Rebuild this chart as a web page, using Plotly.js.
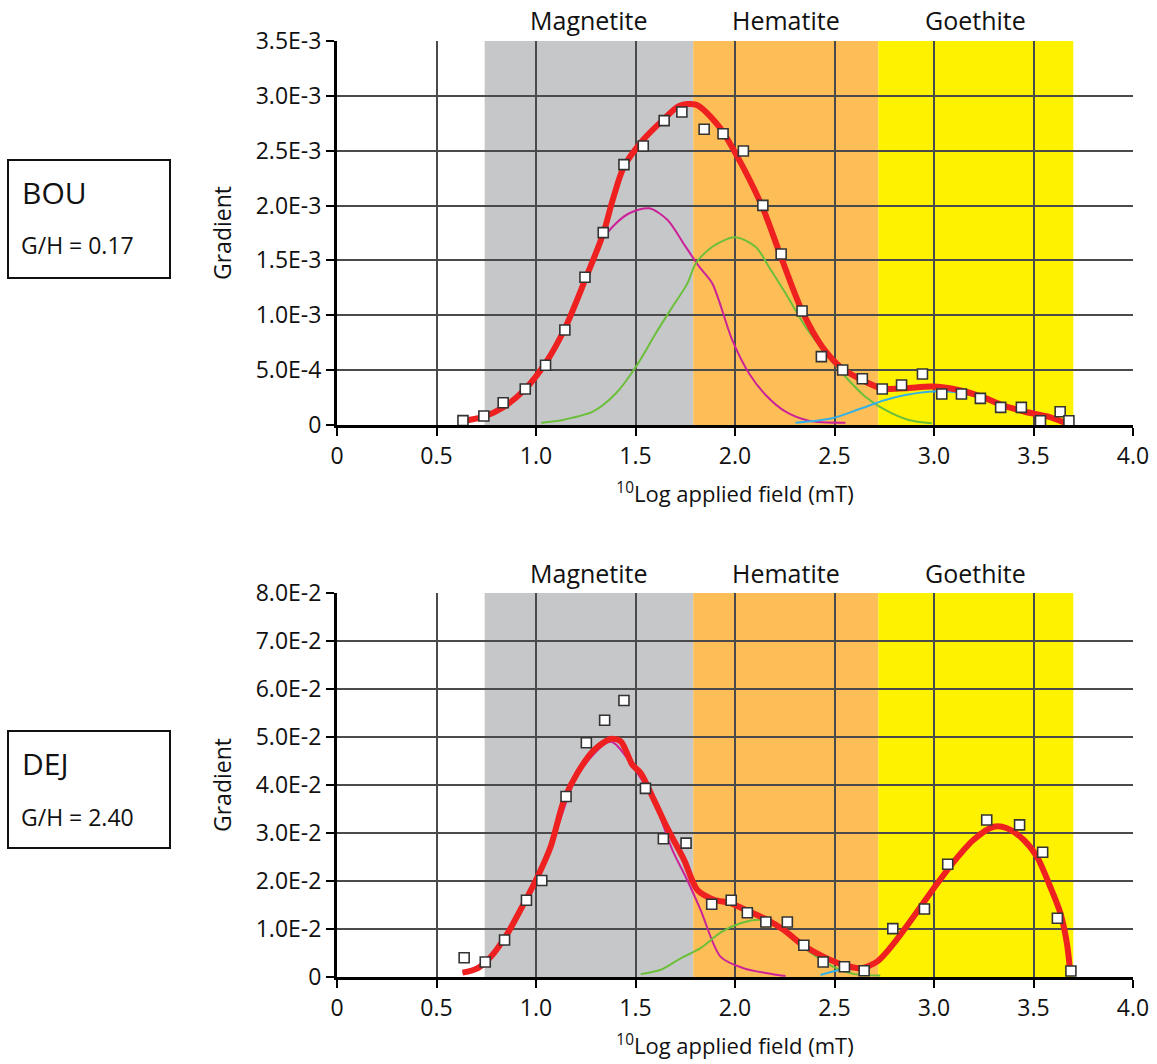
<!DOCTYPE html>
<html>
<head>
<meta charset="utf-8">
<script src="https://cdn.plot.ly/plotly-3.0.1.min.js"></script>
<style>html,body{margin:0;padding:0;background:#fff}#chart{width:1157px;height:1064px}</style>
</head>
<body>
<div id="chart"></div>
<script>
// ---------- shared ----------
const xTickVals = [0, 0.5, 1, 1.5, 2, 2.5, 3, 3.5, 4];
const xTickText = ["0", "0.5", "1.0", "1.5", "2.0", "2.5", "3.0", "3.5", "4.0"];
const bandNames = ["Magnetite", "Hematite", "Goethite"];
const bandStart = [0.742, 1.79, 2.72];
const bandEnd = [1.79, 2.72, 3.70];
const bandColors = ["#c6c7c9", "#fdbe57", "#fff200"];

// ---------- BOU (top) ----------
const bouTickVals = [0, 0.0005, 0.001, 0.0015, 0.002, 0.0025, 0.003, 0.0035];
const bouTickText = ["0", "5.0E-4", "1.0E-3", "1.5E-3", "2.0E-3", "2.5E-3", "3.0E-3", "3.5E-3"];
const bouDataX = [0.633, 0.738, 0.835, 0.946, 1.048, 1.145, 1.246, 1.338, 1.442, 1.539, 1.644, 1.733, 1.845, 1.94,
  2.042, 2.14, 2.232, 2.337, 2.434, 2.541, 2.64, 2.74, 2.837, 2.942, 3.039, 3.138, 3.233, 3.335, 3.439, 3.535, 3.634, 3.678];
const bouDataY = [0.04e-3, 0.082e-3, 0.203e-3, 0.328e-3, 0.544e-3, 0.866e-3, 1.346e-3, 1.753e-3, 2.373e-3, 2.543e-3, 2.774e-3, 2.853e-3, 2.695e-3, 2.655e-3,
  2.497e-3, 2.002e-3, 1.559e-3, 1.039e-3, 0.623e-3, 0.501e-3, 0.422e-3, 0.328e-3, 0.365e-3, 0.465e-3, 0.283e-3, 0.283e-3, 0.243e-3, 0.161e-3, 0.161e-3, 0.039e-3, 0.121e-3, 0.039e-3];
const bouFitX = [0.633, 0.738, 0.836, 0.946, 1.048, 1.145, 1.246, 1.338, 1.385, 1.442, 1.539, 1.644, 1.719, 1.803, 1.92, 2.003, 2.137, 2.237, 2.337, 2.438, 2.538, 2.638, 2.738, 2.856, 2.989, 3.123, 3.24, 3.34, 3.457, 3.574, 3.657];
const bouFitY = [0.036e-3, 0.076e-3, 0.161e-3, 0.328e-3, 0.565e-3, 0.88e-3, 1.32e-3, 1.745e-3, 2.05e-3, 2.355e-3, 2.6e-3, 2.79e-3, 2.908e-3, 2.92e-3, 2.72e-3, 2.476e-3, 1.99e-3, 1.504e-3, 1.04e-3, 0.714e-3, 0.517e-3, 0.41e-3, 0.334e-3, 0.334e-3, 0.35e-3, 0.319e-3, 0.258e-3, 0.182e-3, 0.121e-3, 0.076e-3, 0.021e-3];
const bouMagX = [0.633, 0.738, 0.836, 0.946, 1.048, 1.145, 1.246, 1.302, 1.385, 1.469, 1.569, 1.66, 1.75, 1.82, 1.886, 1.986, 2.07, 2.154, 2.254, 2.371, 2.555];
const bouMagY = [0.03e-3, 0.07e-3, 0.15e-3, 0.31e-3, 0.54e-3, 0.85e-3, 1.3e-3, 1.6e-3, 1.807e-3, 1.93e-3, 1.975e-3, 1.87e-3, 1.63e-3, 1.443e-3, 1.29e-3, 0.775e-3, 0.471e-3, 0.273e-3, 0.121e-3, 0.039e-3, 0.02e-3];
const bouGreenX = [1.026, 1.134, 1.285, 1.402, 1.502, 1.602, 1.686, 1.761, 1.803, 1.886, 2.0, 2.103, 2.17, 2.254, 2.354, 2.455, 2.555, 2.655, 2.755, 2.872, 2.989];
const bouGreenY = [0.02e-3, 0.046e-3, 0.121e-3, 0.289e-3, 0.531e-3, 0.836e-3, 1.078e-3, 1.291e-3, 1.474e-3, 1.625e-3, 1.711e-3, 1.625e-3, 1.443e-3, 1.2e-3, 0.896e-3, 0.653e-3, 0.44e-3, 0.258e-3, 0.137e-3, 0.046e-3, 0.015e-3];
const bouBlueX = [2.304, 2.488, 2.622, 2.755, 2.856, 2.972, 3.1, 3.24, 3.34, 3.457, 3.574, 3.657];
const bouBlueY = [0.02e-3, 0.061e-3, 0.143e-3, 0.228e-3, 0.273e-3, 0.304e-3, 0.3e-3, 0.245e-3, 0.172e-3, 0.112e-3, 0.066e-3, 0.018e-3];

// ---------- DEJ (bottom) ----------
const dejTickVals = [0, 0.01, 0.02, 0.03, 0.04, 0.05, 0.06, 0.07, 0.08];
const dejTickText = ["0", "1.0E-2", "2.0E-2", "3.0E-2", "4.0E-2", "5.0E-2", "6.0E-2", "7.0E-2", "8.0E-2"];
const dejDataX = [0.639, 0.745, 0.842, 0.952, 1.029, 1.151, 1.253, 1.345, 1.442, 1.55, 1.64, 1.754, 1.883, 1.981,
  2.062, 2.155, 2.263, 2.346, 2.443, 2.55, 2.649, 2.793, 2.952, 3.069, 3.265, 3.43, 3.546, 3.62, 3.688];
const dejDataY = [0.402e-2, 0.313e-2, 0.771e-2, 1.598e-2, 2.01e-2, 3.76e-2, 4.88e-2, 5.35e-2, 5.76e-2, 3.93e-2, 2.88e-2, 2.79e-2, 1.515e-2, 1.598e-2,
  1.34e-2, 1.147e-2, 1.147e-2, 0.66e-2, 0.313e-2, 0.215e-2, 0.131e-2, 1.007e-2, 1.418e-2, 2.35e-2, 3.27e-2, 3.17e-2, 2.6e-2, 1.223e-2, 0.125e-2];
const dejFitX = [0.631, 0.706, 0.773, 0.857, 0.94, 1.008, 1.074, 1.141, 1.208, 1.292, 1.375, 1.426, 1.484, 1.526, 1.593, 1.66, 1.744, 1.811, 1.894, 1.978, 2.062, 2.162, 2.246, 2.329, 2.446, 2.547, 2.63, 2.714, 2.798, 2.898, 2.999, 3.099, 3.199, 3.3, 3.367, 3.45, 3.517, 3.584, 3.635, 3.668, 3.685];
const dejFitY = [0.09e-2, 0.18e-2, 0.42e-2, 0.91e-2, 1.54e-2, 2.09e-2, 2.72e-2, 3.69e-2, 4.25e-2, 4.73e-2, 4.96e-2, 4.91e-2, 4.42e-2, 4.25e-2, 3.69e-2, 3.1e-2, 2.44e-2, 1.81e-2, 1.61e-2, 1.54e-2, 1.38e-2, 1.19e-2, 0.98e-2, 0.70e-2, 0.42e-2, 0.25e-2, 0.18e-2, 0.32e-2, 0.70e-2, 1.26e-2, 1.85e-2, 2.40e-2, 2.86e-2, 3.13e-2, 3.10e-2, 2.86e-2, 2.51e-2, 1.88e-2, 1.33e-2, 0.70e-2, 0.08e-2];
const dejMagX = [0.631, 0.773, 0.94, 1.074, 1.208, 1.375, 1.484, 1.593, 1.685, 1.76, 1.827, 1.928, 2.045, 2.162, 2.254];
const dejMagY = [0.08e-2, 0.4e-2, 1.5e-2, 2.7e-2, 4.2e-2, 4.9e-2, 4.4e-2, 3.65e-2, 2.65e-2, 2.02e-2, 1.4e-2, 0.42e-2, 0.18e-2, 0.08e-2, 0.02e-2];
const dejGreenX = [1.526, 1.627, 1.727, 1.827, 1.928, 2.028, 2.128, 2.2, 2.3, 2.4, 2.5, 2.6, 2.73];
const dejGreenY = [0.06e-2, 0.15e-2, 0.39e-2, 0.6e-2, 0.93e-2, 1.12e-2, 1.19e-2, 1.1e-2, 0.75e-2, 0.45e-2, 0.2e-2, 0.06e-2, 0.03e-2];
const dejBlueX = [2.43, 2.53, 2.63, 2.714, 2.798, 2.898, 2.999, 3.099, 3.199, 3.3, 3.367, 3.45, 3.517, 3.584, 3.635, 3.668, 3.685];
const dejBlueY = [0.04e-2, 0.15e-2, 0.18e-2, 0.3e-2, 0.68e-2, 1.24e-2, 1.83e-2, 2.38e-2, 2.84e-2, 3.11e-2, 3.08e-2, 2.84e-2, 2.49e-2, 1.86e-2, 1.31e-2, 0.68e-2, 0.07e-2];

const FONT = "Open Sans, Noto Sans, sans-serif";
const RED = "#ee2020", MAG = "#cc2299", GRN = "#6cbf3a", BLU = "#33b0e6";

function line(x, y, color, width, xa, ya) {
  return {x: x, y: y, xaxis: xa, yaxis: ya, type: "scatter", mode: "lines",
    line: {color: color, width: width, shape: "spline", smoothing: 0.8}, hoverinfo: "skip", showlegend: false};
}
function pts(x, y, xa, ya) {
  return {x: x, y: y, xaxis: xa, yaxis: ya, type: "scatter", mode: "markers",
    marker: {symbol: "square", size: 10, color: "#ffffff", line: {color: "#333333", width: 1.6}},
    hoverinfo: "skip", showlegend: false};
}

const traces = [
  line(bouMagX, bouMagY, MAG, 2, "x", "y"),
  line(bouGreenX, bouGreenY, GRN, 2, "x", "y"),
  line(bouBlueX, bouBlueY, BLU, 2, "x", "y"),
  line(bouFitX, bouFitY, RED, 6, "x", "y"),
  pts(bouDataX, bouDataY, "x", "y"),
  line(dejMagX, dejMagY, MAG, 2, "x2", "y2"),
  line(dejGreenX, dejGreenY, GRN, 2, "x2", "y2"),
  line(dejBlueX, dejBlueY, BLU, 2, "x2", "y2"),
  line(dejFitX, dejFitY, RED, 6, "x2", "y2"),
  pts(dejDataX, dejDataY, "x2", "y2")
];

const xDom = [337 / 1157, 1133 / 1157];
const topDom = [(1064 - 425) / 1064, (1064 - 41) / 1064];
const botDom = [(1064 - 977) / 1064, (1064 - 593) / 1064];

function xAxis(anchor) {
  return {domain: xDom, anchor: anchor, range: [0, 4], tickvals: xTickVals, ticktext: xTickText,
    showgrid: true, gridcolor: "#4a4a4a", gridwidth: 2, zeroline: false,
    showline: true, linecolor: "#000000", linewidth: 3, ticks: "outside", ticklen: 8, tickwidth: 2, tickcolor: "#000",
    tickfont: {family: FONT, size: 23, color: "#111"},
    title: {text: "<sup>10</sup>Log applied field (mT)", font: {family: FONT, size: 22, color: "#111"}, standoff: 18}};
}
function yAxis(anchor, dom, range, tv, tt) {
  return {domain: dom, anchor: anchor, range: range, tickvals: tv, ticktext: tt,
    showgrid: true, gridcolor: "#4a4a4a", gridwidth: 2, zeroline: false,
    showline: true, linecolor: "#000000", linewidth: 3, ticks: "outside", ticklen: 8, tickwidth: 2, tickcolor: "#000",
    tickfont: {family: FONT, size: 23, color: "#111"},
    title: {text: "Gradient", font: {family: FONT, size: 23, color: "#111"}, standoff: 18}};
}

const shapes = [];
const annotations = [];
[["x", topDom, 20], ["x2", botDom, 573]].forEach(function (s) {
  for (let i = 0; i < bandNames.length; i++) {
    shapes.push({type: "rect", xref: s[0], yref: "paper", x0: bandStart[i], x1: bandEnd[i], y0: s[1][0], y1: s[1][1],
      fillcolor: bandColors[i], line: {width: 0}, layer: "below"});
    annotations.push({xref: s[0], yref: "paper", x: (bandStart[i] + bandEnd[i]) / 2, y: (1064 - s[2]) / 1064,
      text: bandNames[i], showarrow: false, xanchor: "center", yanchor: "middle",
      font: {family: FONT, size: 25, color: "#111"}});
  }
});
// sample boxes
[[160, 278, "BOU", "G/H = 0.17", 192, 245], [731, 848, "DEJ", "G/H = 2.40", 763, 817]].forEach(function (b) {
  shapes.push({type: "rect", xref: "paper", yref: "paper", x0: 8 / 1157, x1: 170 / 1157,
    y0: (1064 - b[1]) / 1064, y1: (1064 - b[0]) / 1064, line: {color: "#111", width: 2}, fillcolor: "rgba(0,0,0,0)"});
  annotations.push({xref: "paper", yref: "paper", x: 20 / 1157, y: (1064 - b[4]) / 1064, text: b[2], showarrow: false,
    xanchor: "left", yanchor: "middle", font: {family: FONT, size: 30, color: "#111"}});
  annotations.push({xref: "paper", yref: "paper", x: 19 / 1157, y: (1064 - b[5]) / 1064, text: b[3], showarrow: false,
    xanchor: "left", yanchor: "middle", font: {family: FONT, size: 23, color: "#111"}});
});

const layout = {
  width: 1157, height: 1064,
  margin: {l: 0, r: 0, t: 0, b: 0},
  paper_bgcolor: "#ffffff", plot_bgcolor: "rgba(0,0,0,0)",
  showlegend: false,
  xaxis: xAxis("y"),
  yaxis: yAxis("x", topDom, [0, 0.0035], bouTickVals, bouTickText),
  xaxis2: xAxis("y2"),
  yaxis2: yAxis("x2", botDom, [0, 0.08], dejTickVals, dejTickText),
  shapes: shapes,
  annotations: annotations
};

Plotly.newPlot("chart", traces, layout, {staticPlot: true, displayModeBar: false});
</script>
</body>
</html>
